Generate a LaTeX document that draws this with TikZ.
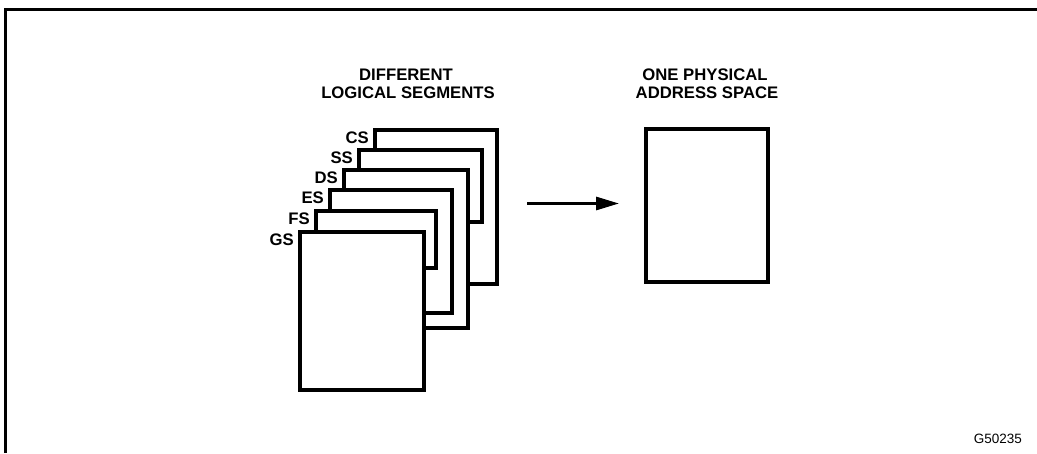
\documentclass[tikz,border=0pt]{standalone}
\usepackage{fontspec}
\setmainfont{Liberation Sans}
\usetikzlibrary{arrows.meta}
\begin{document}
\begin{tikzpicture}[x=1pt,y=-1pt,
  seg/.style={draw=black,fill=white,line width=4pt,inner sep=0pt,outer sep=0pt,rectangle},
  lbl/.style={font=\fontsize{16.7}{18}\selectfont\bfseries,inner sep=0pt,anchor=base east},
  ttl/.style={font=\fontsize{16.7}{18}\selectfont\bfseries,inner sep=0pt,anchor=base},
  frame/.style={line width=3pt,line cap=butt},
  arr/.style={line width=3pt,-{Triangle[length=23pt,width=13pt]}}]
\useasboundingbox (0,0) rectangle (1037,453);
% frame
\coordinate (f1) at (5.5,453);
\coordinate (f2) at (5.5,9);
\coordinate (f3) at (1037,9);
\draw[frame] (f1) -- (f2) -- (f3);
% titles
\node[ttl] (t1) at (406,80) {DIFFERENT};
\node[ttl] (t2) at (408,98) {LOGICAL SEGMENTS};
\node[ttl] (t3) at (705,80) {ONE PHYSICAL};
\node[ttl] (t4) at (707,98) {ADDRESS SPACE};
% segments, back to front
\node[seg,minimum width=122pt,minimum height=154pt] (cs) at (436,207) {};
\node[seg,minimum width=123pt,minimum height=72pt] (ss) at (420.5,186) {};
\node[seg,minimum width=124pt,minimum height=158pt] (ds) at (406,249) {};
\node[seg,minimum width=122pt,minimum height=123pt] (es) at (391,251.5) {};
\node[seg,minimum width=120pt,minimum height=57pt] (fs) at (376,239.5) {};
\node[seg,minimum width=124pt,minimum height=158pt] (gs) at (362,311) {};
% labels
\node[lbl] (lcs) at ([xshift=-6pt,yshift=-13pt]cs.north west) {CS};
\node[lbl] (lss) at ([xshift=-6pt,yshift=-13pt]ss.north west) {SS};
\node[lbl] (lds) at ([xshift=-6pt,yshift=-13pt]ds.north west) {DS};
\node[lbl] (les) at ([xshift=-6pt,yshift=-13pt]es.north west) {ES};
\node[lbl] (lfs) at ([xshift=-6pt,yshift=-13pt]fs.north west) {FS};
\node[lbl] (lgs) at ([xshift=-6pt,yshift=-13pt]gs.north west) {GS};
% physical
\node[seg,minimum width=122pt,minimum height=153pt] (phys) at (707,205.5) {};
% arrow
\coordinate (a1) at (527,203.5);
\coordinate (a2) at (619,203.5);
\draw[arr] (a1) -- (a2);
% figure id
\node[font=\fontsize{13.5}{15}\selectfont,inner sep=0pt,anchor=base east] (gid) at (1022,443) {G50235};
\end{tikzpicture}
\end{document}
